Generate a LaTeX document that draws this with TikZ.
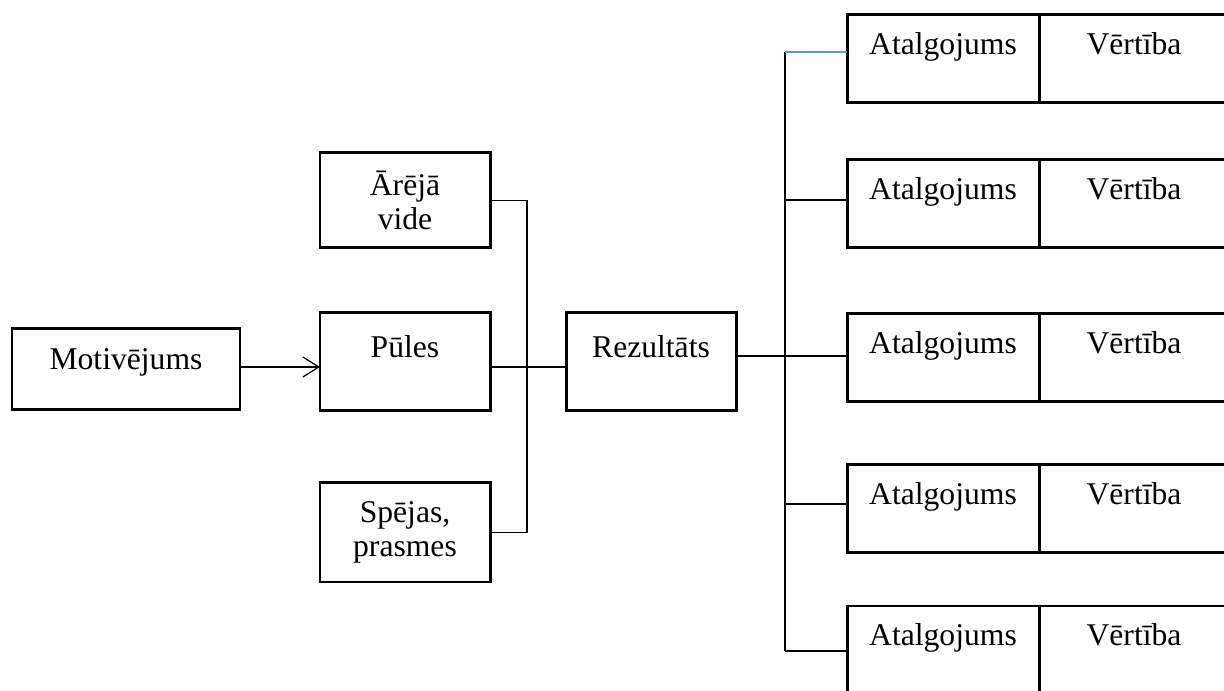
\documentclass[tikz,border=0pt]{standalone}
\usepackage{fontspec}
\setmainfont{Liberation Serif}
\usepackage{tikz}
\usetikzlibrary{arrows.meta,calc}
\definecolor{linkblue}{RGB}{91,155,213}
\tikzstyle{box}=[draw,line width=0.85pt,inner sep=0pt,outer sep=0pt,font=\fontsize{9}{9.7}\selectfont]
\tikzstyle{onebox}=[box,minimum width=1.70cm,text height=0.45cm,text depth=0.53cm]
\tikzstyle{twobox}=[box,minimum width=1.70cm,align=center]
\tikzstyle{paybox}=[box,minimum width=1.92cm,text height=0.40cm,text depth=0.48cm]
\tikzstyle{valbox}=[box,minimum width=1.90cm,text height=0.40cm,text depth=0.48cm]
\tikzstyle{wire}=[draw,line width=0.35pt]
\begin{document}
\begin{tikzpicture}
    \path[use as bounding box,clip] (0,0) rectangle (12.24,-6.91);

    % left part
    \node[box,minimum width=2.28cm,text height=0.41cm,text depth=0.40cm] (mot) at (1.26,-3.695) {Motivējums};
    \node[onebox] (pul) at (4.05,-3.62) {Pūles};
    \node[twobox,minimum height=0.95cm] (are) at (4.05,-2.005) {Ārējā\\vide};
    \node[twobox,minimum height=0.99cm] (spe) at (4.05,-5.325) {Spējas,\\prasmes};
    \node[onebox] (rez) at (6.51,-3.62) {Rezultāts};

    \coordinate (j) at (5.27,-3.67);

    \draw[wire,-{Straight Barb[length=0.16cm,width=0.2cm]}] (mot.east |- j) -- (j -| pul.west);
    \draw[wire] (are.east) -| (j) |- (spe.east);
    \draw[wire] (pul.east |- j) -- (j -| rez.west);

    % right part
    \foreach \n/\y in {1/0.59, 2/2.035, 3/3.575, 4/5.085, 5/6.50} {
        \node[paybox] (a\n) at (9.43,-\y) {Atalgojums};
        \node[valbox,anchor=west] (v\n) at (a\n.east) {Vērtība};
    }

    \foreach \n/\y in {1/0.52, 2/2.00, 3/3.56, 4/5.04, 5/6.51}
        \coordinate (b\n) at (7.85,-\y);

    \draw[wire] (b1) -- (b5);
    \draw[wire] (rez.east |- b3) -- (b3 -| a3.west);
    \draw[wire,linkblue] (b1) -- (b1 -| a1.west);
    \foreach \n in {2,4,5}
        \draw[wire] (b\n) -- (b\n -| a\n.west);

\end{tikzpicture}
\end{document}
